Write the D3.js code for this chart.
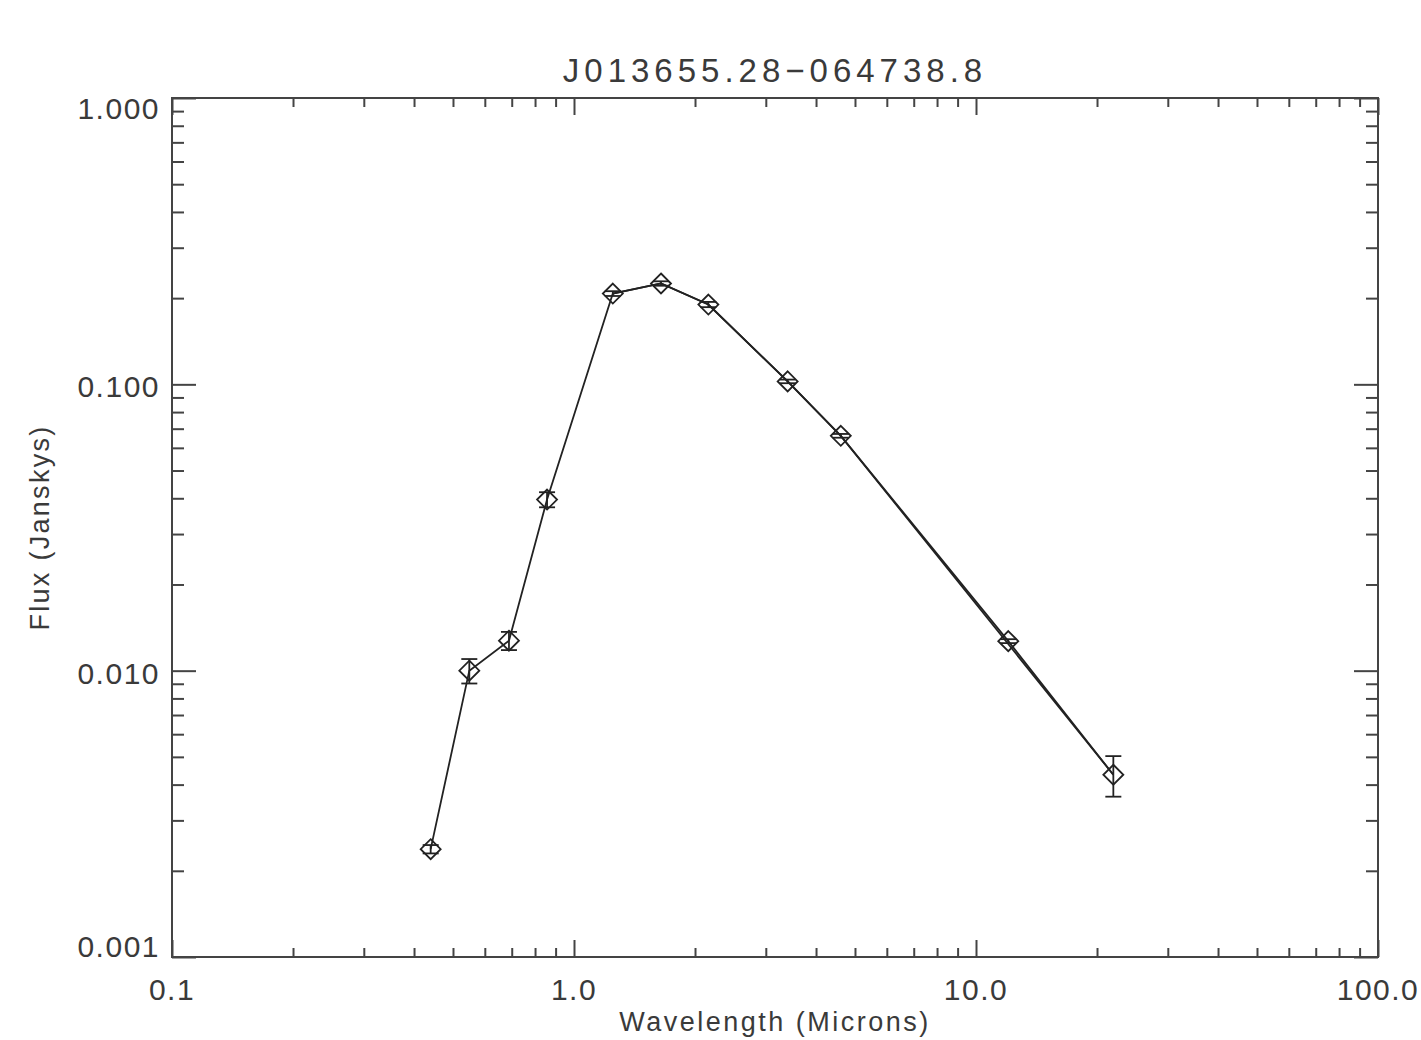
<!DOCTYPE html>
<html><head><meta charset="utf-8">
<script src="https://cdn.jsdelivr.net/npm/d3@7"></script>
<style>
html,body{margin:0;padding:0;background:#fff;}
svg text{font-family:"Liberation Sans",Arial,sans-serif;fill:#3a3a3a;}
</style></head>
<body><svg id="chart" width="1421" height="1040"></svg>
<script>
// ---- data ----
const titleText = "J013655.28\u2212064738.8";
const xLabel = "Wavelength (Microns)";
const yLabel = "Flux (Janskys)";
const wavelength = [0.44, 0.549, 0.689, 0.857, 1.249, 1.646, 2.159, 3.40, 4.61, 12.03, 21.96];
const flux       = [0.00238, 0.0100, 0.01273, 0.0396, 0.2075, 0.2250, 0.190, 0.1024, 0.0661, 0.01268, 0.00433];
const fluxErr    = [0.00008, 0.00098, 0.00093, 0.0024, 0.004, 0.004, 0.004, 0.0015, 0.001, 0.0002, 0.0007];
// second trace (skips the 12 micron point)
const altWavelength = [1.249, 1.646, 2.159, 3.40, 4.61, 21.96];
const altFlux       = [0.2075, 0.2250, 0.190, 0.1024, 0.0661, 0.00433];
const xMajor = [0.1, 1, 10, 100];
const xTickLabels = ["0.1", "1.0", "10.0", "100.0"];
const yMajor = [0.001, 0.01, 0.1, 1];
const yTickLabels = ["0.001", "0.010", "0.100", "1.000"];

// ---- layout ----
const L = 172, R = 1378, T = 98, B = 957;
const svg = d3.select("#chart");
const x = d3.scaleLog().domain([0.1, 100]).range([L, R]);
const y = d3.scaleLog().domain([0.001, 1]).range([B, T]);

function minors(major){
  const out=[];
  for(let i=0;i<major.length-1;i++) for(let k=2;k<=9;k++) out.push(major[i]*k);
  return out;
}
const xMinor = minors(xMajor), yMinor = minors(yMajor);
const axisColor = "#444";

function styleAxis(g){
  g.select(".domain").remove();
  g.selectAll("line").attr("stroke", axisColor).attr("stroke-width", 2);
  g.selectAll("text").remove();
}
const xMajLen=17, xMinLen=9, yMajLen=24, yMinLen=12;
[[B, d3.axisTop], [T, d3.axisBottom]].forEach(([pos, ax])=>{
  svg.append("g").attr("transform",`translate(0,${pos})`)
    .call(ax(x).tickValues(xMajor).tickSize(xMajLen)).call(styleAxis);
  svg.append("g").attr("transform",`translate(0,${pos})`)
    .call(ax(x).tickValues(xMinor).tickSize(xMinLen)).call(styleAxis);
});
[[L, d3.axisRight], [R, d3.axisLeft]].forEach(([pos, ax])=>{
  svg.append("g").attr("transform",`translate(${pos},0)`)
    .call(ax(y).tickValues(yMajor).tickSize(yMajLen)).call(styleAxis);
  svg.append("g").attr("transform",`translate(${pos},0)`)
    .call(ax(y).tickValues(yMinor).tickSize(yMinLen)).call(styleAxis);
});
svg.append("rect").attr("x",L).attr("y",T).attr("width",R-L).attr("height",B-T)
  .attr("fill","none").attr("stroke",axisColor).attr("stroke-width",2);

// tick labels
svg.selectAll(".xl").data(xMajor).enter().append("text")
  .attr("x", d=>x(d)).attr("y", 1000).attr("text-anchor","middle")
  .attr("font-size",30).attr("letter-spacing",1.5).text((d,i)=>xTickLabels[i]);
svg.selectAll(".yl").data(yMajor).enter().append("text")
  .attr("x", 160).attr("y", d=>Math.max(T+21, Math.min(B, y(d)+13)))
  .attr("text-anchor","end").attr("font-size",30).attr("letter-spacing",1.5).text((d,i)=>yTickLabels[i]);

// titles
svg.append("text").attr("x",(L+R)/2).attr("y",82).attr("text-anchor","middle")
  .attr("font-size",33).attr("letter-spacing",5).text(titleText);
svg.append("text").attr("x",(L+R)/2).attr("y",1031).attr("text-anchor","middle")
  .attr("font-size",27).attr("letter-spacing",2.5).text(xLabel);
svg.append("text").attr("transform",`translate(49,${(T+B)/2}) rotate(-90)`)
  .attr("text-anchor","middle").attr("font-size",27).attr("letter-spacing",2.3).text(yLabel);

// lines
const lineColor = "#222";
const line = d3.line().x(d=>x(d[0])).y(d=>y(d[1]));
svg.append("path").datum(altWavelength.map((w,i)=>[w, altFlux[i]]))
  .attr("d", line).attr("fill","none").attr("stroke",lineColor).attr("stroke-width",1.8);
svg.append("path").datum(wavelength.map((w,i)=>[w, flux[i]]))
  .attr("d", line).attr("fill","none").attr("stroke",lineColor).attr("stroke-width",1.8);

// error bars
const cap = 8;
const eb = svg.append("g").attr("stroke",lineColor).attr("stroke-width",1.8);
wavelength.forEach((w,i)=>{
  const cx = x(w), y1 = y(flux[i]+fluxErr[i]), y2 = y(flux[i]-fluxErr[i]);
  eb.append("line").attr("x1",cx).attr("x2",cx).attr("y1",y1).attr("y2",y2);
  eb.append("line").attr("x1",cx-cap).attr("x2",cx+cap).attr("y1",y1).attr("y2",y1);
  eb.append("line").attr("x1",cx-cap).attr("x2",cx+cap).attr("y1",y2).attr("y2",y2);
});

// diamond markers
const s = 10;
svg.selectAll(".pt").data(wavelength).enter().append("path")
  .attr("d",(d,i)=>{const cx=x(d), cy=y(flux[i]);
    return `M${cx},${cy-s}L${cx+s},${cy}L${cx},${cy+s}L${cx-s},${cy}Z`;})
  .attr("fill","none").attr("stroke",lineColor).attr("stroke-width",1.8);
</script></body></html>
